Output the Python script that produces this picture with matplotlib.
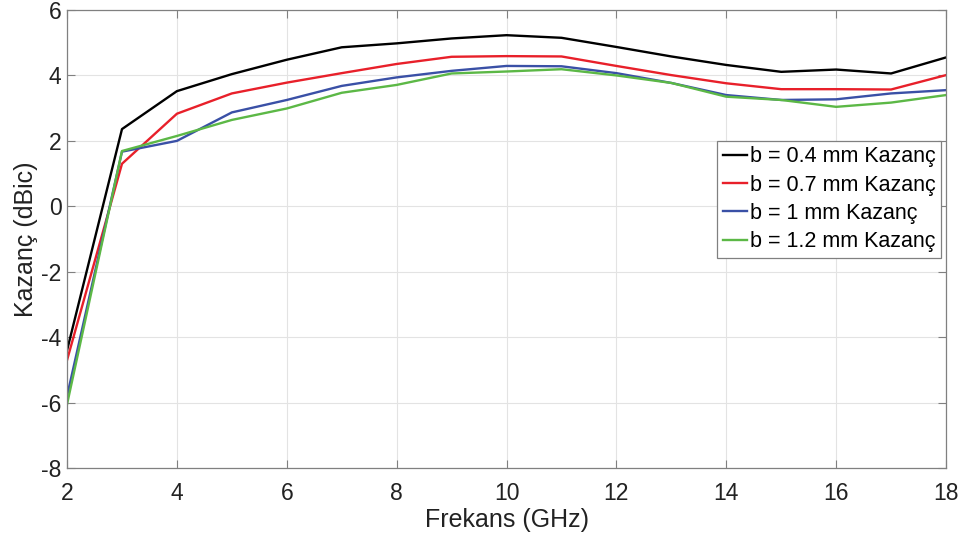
import matplotlib
matplotlib.use("Agg")
import matplotlib.pyplot as plt

plt.rcParams["font.family"] = ["Liberation Sans", "DejaVu Sans"]
plt.rcParams["axes.unicode_minus"] = False

freq = [2, 3, 4, 5, 6, 7, 8, 9, 10, 11, 12, 13, 14, 15, 16, 17, 18]

gain_04 = [-4.4, 2.36, 3.52, 4.04, 4.48, 4.86, 4.98, 5.13, 5.23, 5.15, 4.87, 4.58, 4.32, 4.11, 4.18, 4.06, 4.55]
gain_07 = [-4.7, 1.3, 2.83, 3.45, 3.78, 4.07, 4.35, 4.57, 4.59, 4.58, 4.29, 4.01, 3.76, 3.58, 3.58, 3.57, 4.01]
gain_10 = [-5.8, 1.67, 2.0, 2.87, 3.25, 3.68, 3.94, 4.14, 4.29, 4.28, 4.07, 3.77, 3.4, 3.25, 3.27, 3.45, 3.55]
gain_12 = [-6.05, 1.69, 2.15, 2.64, 2.99, 3.47, 3.71, 4.06, 4.12, 4.19, 4.0, 3.77, 3.35, 3.25, 3.04, 3.17, 3.4]

labels = ["b = 0.4 mm Kazanç", "b = 0.7 mm Kazanç", "b = 1 mm Kazanç", "b = 1.2 mm Kazanç"]
colors = ["#000000", "#e8202a", "#3a50a6", "#5cb846"]

fig = plt.figure(figsize=(9.62, 5.43), dpi=100)
ax = fig.add_axes([0.0697, 0.138, 0.9137, 0.8436])

for y, lab, c in zip([gain_04, gain_07, gain_10, gain_12], labels, colors):
    ax.plot(freq, y, color=c, linewidth=1.7, label=lab)

ax.set_xlim(2, 18)
ax.set_ylim(-8, 6)
ax.set_xticks(range(2, 19, 2))
ax.set_yticks(range(-8, 7, 2))

ax.grid(True, color="#e3e3e3", linewidth=0.8)
ax.set_axisbelow(True)

for s in ax.spines.values():
    s.set_color("#808080")
    s.set_linewidth(0.9)

ax.tick_params(direction="in", length=6, width=0.8, color="#808080",
               top=True, right=True, labelsize=16.5, labelcolor="#222222", pad=4)
ax.tick_params(axis="x", pad=10)

ax.set_xlabel("Frekans (GHz)", fontsize=18, color="#222222", labelpad=2)
ax.set_ylabel("Kazanç (dBic)", fontsize=18, color="#222222", labelpad=2)

leg = ax.legend(loc="upper right", bbox_to_anchor=(0.994, 0.714), fontsize=15.5,
                handlelength=1.15, handletextpad=0.1, borderpad=0.25,
                labelspacing=0.34, borderaxespad=0, fancybox=False, framealpha=1)
leg.get_frame().set_edgecolor("#808080")
leg.get_frame().set_linewidth(0.9)

fig.savefig("out.png", dpi=100)
